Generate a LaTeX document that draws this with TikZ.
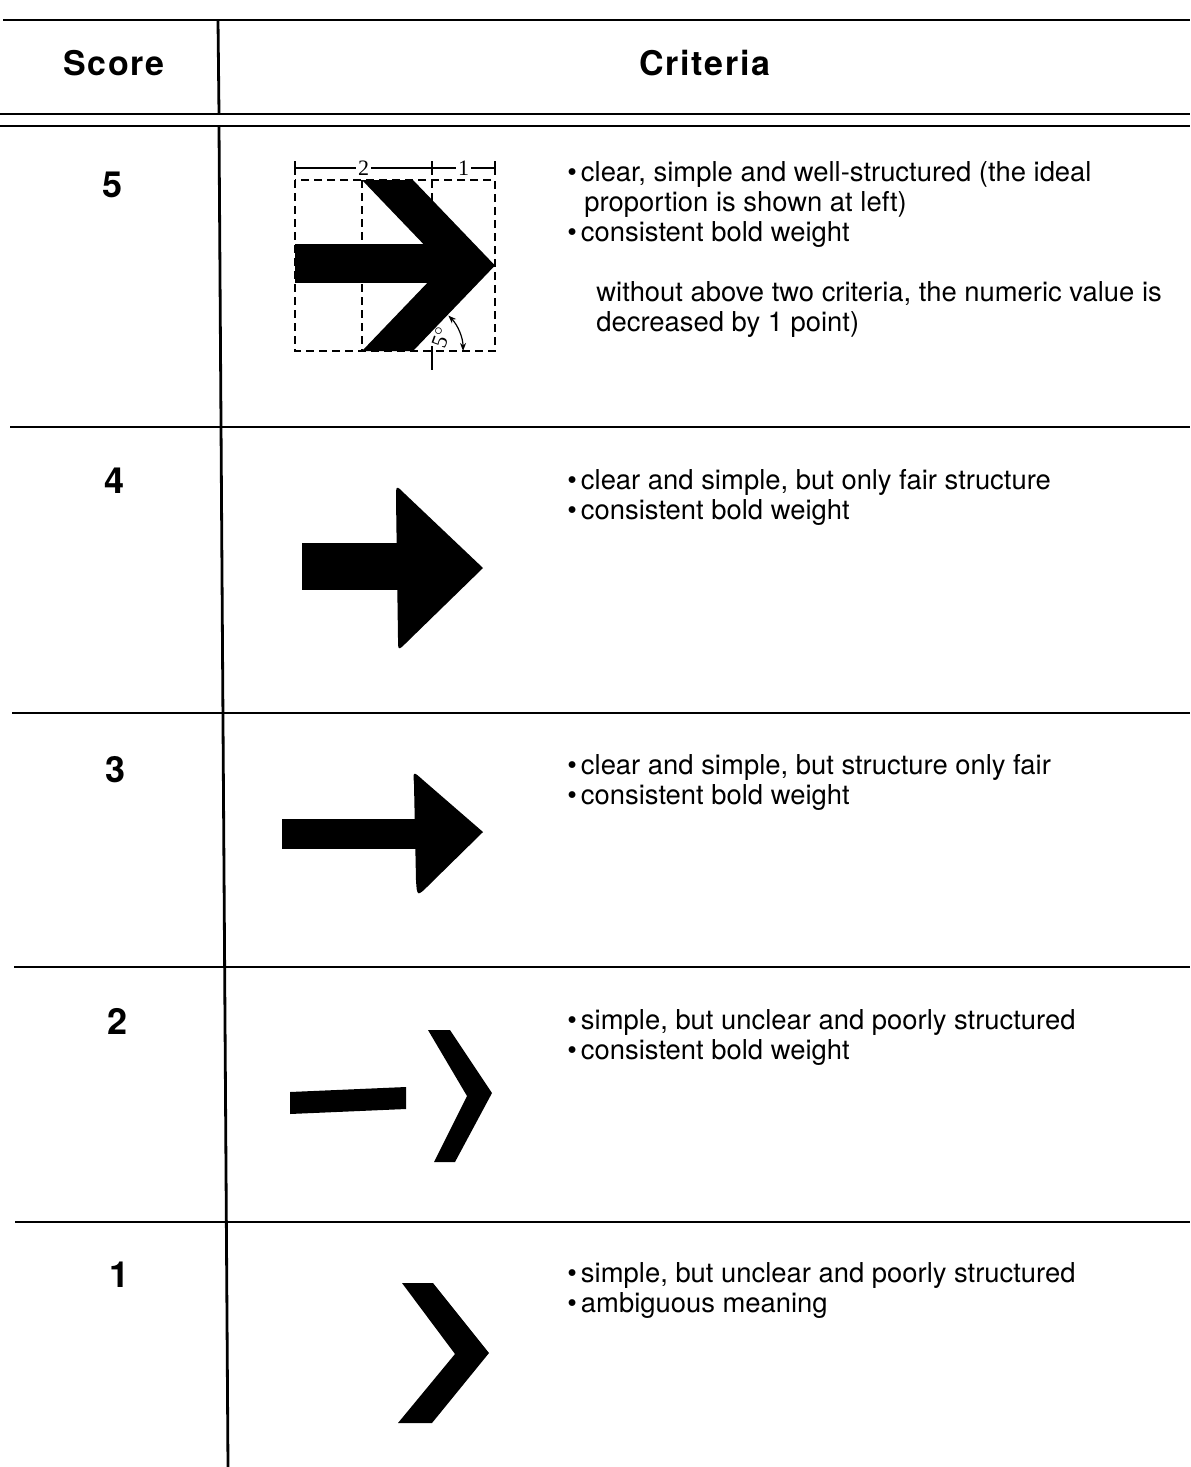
\documentclass[tikz,border=0pt]{standalone}
\usepackage{fontspec}
\setmainfont{TeX Gyre Heros}
\newfontfamily\headfont[LetterSpace=5]{TeX Gyre Heros}
\newfontfamily\dimfont{Liberation Serif}
\usetikzlibrary{arrows.meta, positioning}
\newcommand{\bul}{\textbullet\kern2pt}

\begin{document}
\begin{tikzpicture}[x=0.5pt, y=-0.5pt,
        rule/.style={line width=1.4pt},
        dimline/.style={line width=0.6pt},
        guide/.style={line width=0.8pt, dash pattern=on 4pt off 2.5pt},
        ink/.style={fill=black, draw=none},
        headnode/.style={font=\headfont\bfseries\fontsize{17}{20}\selectfont},
        scorenode/.style={font=\bfseries\fontsize{18}{21}\selectfont},
        critnode/.style={anchor=north west, align=left, inner sep=0pt,
            font=\fontsize{13.7}{15}\selectfont},
        dimlabel/.style={font=\dimfont\fontsize{11}{12}\selectfont, fill=white, inner sep=1pt}]
    \useasboundingbox (0,0) rectangle (1190,1467);

    % table rules
    \draw[rule] (3,20) -- (1190,20);
    \draw[rule] (0,114) -- (1190,114);
    \draw[rule] (0,126) -- (1190,126);
    \draw[rule] (10,427) -- (1190,427);
    \draw[rule] (12,713) -- (1190,713);
    \draw[rule] (14,967) -- (1190,967);
    \draw[rule] (15,1222) -- (1190,1222);
    \draw[rule] (218,20) -- (219,114);
    \draw[rule] (219,126) -- (228,1467);

    % header
    \node[headnode] (score) at (114,63) {Score};
    \node[headnode] (criteria) at (705,63) {Criteria};

    % scores
    \node[scorenode] (s5) at (113,185) {5};
    \node[scorenode] (s4) at (115,481) {4};
    \node[scorenode] (s3) at (116,770) {3};
    \node[scorenode] (s2) at (118,1021) {2};
    \node[scorenode] (s1) at (120,1275) {1};

    % criteria
    \node[critnode] (c5) at (567,161) {\bul clear, simple and well-structured (the ideal\\
        \hspace*{8.5pt}proportion is shown at left)\\
        \bul consistent bold weight\\[15pt]
        \hspace*{14.5pt}without above two criteria, the numeric value is\\
        \hspace*{14.5pt}decreased by 1 point)};
    \node[critnode] (c4) at (567,469) {\bul clear and simple, but only fair structure\\
        \bul consistent bold weight};
    \node[critnode] (c3) at (567,754) {\bul clear and simple, but structure only fair\\
        \bul consistent bold weight};
    \node[critnode] (c2) at (567,1009) {\bul simple, but unclear and poorly structured\\
        \bul consistent bold weight};
    \node[critnode] (c1) at (567,1262) {\bul simple, but unclear and poorly structured\\
        \bul ambiguous meaning};

    % ideal proportion (score 5)
    \node[dimlabel, rotate=70] (angle) at (441,337) {5$^\circ$};
    \draw[guide] (295,180) rectangle (495,351);
    \draw[guide] (362,180) -- (362,351);
    \draw[guide] (432,180) -- (432,205);
    \draw[dimline] (295,161) -- (295,175) (432,161) -- (432,175) (495,161) -- (495,175);
    \draw[dimline] (295,168) -- node[dimlabel] (two) {2} (432,168)
        -- node[dimlabel] (one) {1} (495,168);
    \draw[dimline] (432,346) -- (432,370);
    \fill[ink] (295,244) rectangle (444,283);
    \fill[ink] (362,180) -- (413,180) -- (495,265.5) -- (413,351) -- (362,351)
        -- (444,265.5) -- cycle;
    \draw[dimline, {Stealth[length=4pt]}-{Stealth[length=4pt]}]
        (448.4,315.6) arc[start angle=-45, end angle=0, radius=50];

    % score 4
    \fill[ink] (302,543) rectangle (400,590);
    \fill[ink] (483,568) -- (405,494) .. controls (396,485) .. (396,498)
        -- (398,638) .. controls (398,651) .. (407,642) -- cycle;

    % score 3
    \fill[ink] (282,819) rectangle (418,849);
    \fill[ink] (483,832) -- (423,780) .. controls (413,771) .. (414,784)
        -- (416,880) .. controls (417,897) .. (430,884) -- cycle;

    % score 2
    \fill[ink] (290,1092) -- (406,1087) -- (406,1109) -- (290,1114) -- cycle;
    \fill[ink] (428,1030) -- (450,1030) -- (492,1093) -- (455,1162) -- (434,1162)
        -- (467,1096) -- cycle;

    % score 1
    \fill[ink] (402,1283) -- (433,1283) -- (489,1353) -- (432,1423) -- (398,1423)
        -- (455,1354) -- cycle;
\end{tikzpicture}
\end{document}
